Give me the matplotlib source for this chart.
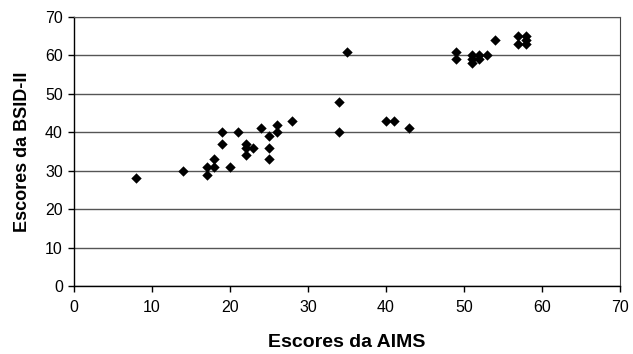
import matplotlib
matplotlib.use("Agg")
import matplotlib.pyplot as plt

plt.rcParams['font.family'] = ['Liberation Sans', 'DejaVu Sans']

aims = [8, 14, 17, 17, 18, 18, 19, 19, 20, 21, 22, 22, 22, 23, 24, 25, 25, 25, 26, 26, 28,
        34, 34, 35, 40, 41, 43,
        49, 49, 51, 51, 51, 52, 52, 53, 54, 57, 57, 58, 58, 58]
bsid = [28, 30, 31, 29, 33, 31, 40, 37, 31, 40, 37, 36, 34, 36, 41, 39, 36, 33, 42, 40, 43,
        48, 40, 61, 43, 43, 41,
        61, 59, 60, 59, 58, 60, 59, 60, 64, 65, 63, 65, 64, 63]

xticks = [0, 10, 20, 30, 40, 50, 60, 70]
yticks = [0, 10, 20, 30, 40, 50, 60, 70]

fig = plt.figure(figsize=(6.33, 3.54), dpi=100)
ax = fig.add_axes([0.117, 0.192, 0.862, 0.760])

ax.scatter(aims, bsid, marker='D', s=28, color='black', zorder=3, linewidths=0)

ax.set_xlim(0, 70)
ax.set_ylim(0, 70)
ax.set_xticks(xticks)
ax.set_yticks(yticks)
ax.yaxis.grid(True, color='#555555', linewidth=1.0)
ax.set_axisbelow(True)

for s in ['left', 'bottom']:
    ax.spines[s].set_color('black')
    ax.spines[s].set_linewidth(1.0)
ax.spines['right'].set_color('#444444')
ax.spines['top'].set_color('#555555')

ax.tick_params(direction='out', length=4, width=1, labelsize=11.5, colors='black', pad=4)
ax.tick_params(axis='x', pad=6)

ax.set_xlabel('Escores da AIMS', fontsize=14, fontweight='bold', labelpad=14)
ax.set_ylabel('Escores da BSID-II', fontsize=13, fontweight='bold', labelpad=10)

fig.savefig('out.png', dpi=100)
